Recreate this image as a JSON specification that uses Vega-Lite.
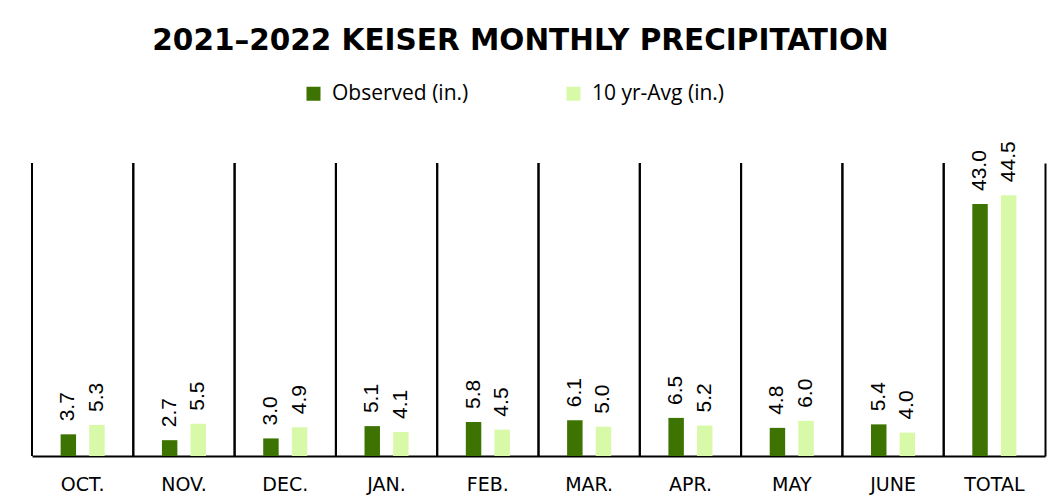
{
  "$schema": "https://vega.github.io/schema/vega-lite/v6.json",
  "width": 1013,
  "height": 293,
  "autosize": {"type": "none"},
  "padding": {"left": 32, "top": 163, "right": 12, "bottom": 46},
  "background": "white",
  "config": {"view": {"stroke": null}},
  "title": {
    "text": "2021–2022 KEISER MONTHLY PRECIPITATION",
    "font": "DejaVu Sans",
    "fontSize": 29.5,
    "fontWeight": "bold",
    "color": "black",
    "anchor": "middle",
    "frame": "group",
    "offset": 4,
    "dx": -18,
    "baseline": "alphabetic"
  },
  "data": {
    "values": [
      {"month": "OCT.", "series": "Observed (in.)", "value": 3.7},
      {"month": "OCT.", "series": "10 yr-Avg (in.)", "value": 5.3},
      {"month": "NOV.", "series": "Observed (in.)", "value": 2.7},
      {"month": "NOV.", "series": "10 yr-Avg (in.)", "value": 5.5},
      {"month": "DEC.", "series": "Observed (in.)", "value": 3.0},
      {"month": "DEC.", "series": "10 yr-Avg (in.)", "value": 4.9},
      {"month": "JAN.", "series": "Observed (in.)", "value": 5.1},
      {"month": "JAN.", "series": "10 yr-Avg (in.)", "value": 4.1},
      {"month": "FEB.", "series": "Observed (in.)", "value": 5.8},
      {"month": "FEB.", "series": "10 yr-Avg (in.)", "value": 4.5},
      {"month": "MAR.", "series": "Observed (in.)", "value": 6.1},
      {"month": "MAR.", "series": "10 yr-Avg (in.)", "value": 5.0},
      {"month": "APR.", "series": "Observed (in.)", "value": 6.5},
      {"month": "APR.", "series": "10 yr-Avg (in.)", "value": 5.2},
      {"month": "MAY", "series": "Observed (in.)", "value": 4.8},
      {"month": "MAY", "series": "10 yr-Avg (in.)", "value": 6.0},
      {"month": "JUNE", "series": "Observed (in.)", "value": 5.4},
      {"month": "JUNE", "series": "10 yr-Avg (in.)", "value": 4.0},
      {"month": "TOTAL", "series": "Observed (in.)", "value": 43.0},
      {"month": "TOTAL", "series": "10 yr-Avg (in.)", "value": 44.5}
    ]
  },
  "encoding": {
    "x": {
      "field": "month",
      "type": "nominal",
      "sort": null,
      "scale": {"paddingInner": 0, "paddingOuter": 0},
      "axis": {
        "title": null,
        "labelAngle": 0,
        "labelFont": "DejaVu Sans",
        "labelFontSize": 19,
        "labelColor": "black",
        "labelPadding": 19,
        "ticks": false,
        "grid": false,
        "domainColor": "black",
        "domainWidth": 2
      }
    },
    "y": {
      "field": "value",
      "type": "quantitative",
      "scale": {"domain": [0, 50]},
      "axis": {
        "orient": "right",
        "title": null,
        "labels": false,
        "ticks": false,
        "grid": false,
        "domainColor": "black",
        "domainWidth": 2
      }
    }
  },
  "layer": [
    {
      "mark": {"type": "rule", "color": "black", "strokeWidth": 2},
      "encoding": {
        "x": {"field": "month", "type": "nominal", "sort": null, "bandPosition": 0},
        "y": null
      }
    },
    {
      "mark": {"type": "bar"},
      "encoding": {
        "xOffset": {
          "field": "series",
          "type": "nominal",
          "sort": ["Observed (in.)", "10 yr-Avg (in.)"],
          "scale": {"paddingInner": 0.46, "paddingOuter": 1.18}
        },
        "color": {
          "field": "series",
          "type": "nominal",
          "sort": ["Observed (in.)", "10 yr-Avg (in.)"],
          "scale": {"domain": ["Observed (in.)", "10 yr-Avg (in.)"], "range": ["#3D7300", "#D8FAA8"]},
          "legend": {
            "title": null,
            "orient": "none",
            "legendX": 271,
            "legendY": -80,
            "direction": "horizontal",
            "symbolType": "square",
            "symbolSize": 196,
            "symbolStrokeWidth": 0,
            "labelFont": "Open Sans",
            "labelFontSize": 21,
            "labelColor": "black",
            "labelOffset": 8,
            "columnPadding": 94,
            "labelLimit": 300
          }
        }
      }
    },
    {
      "mark": {
        "type": "text",
        "angle": 270,
        "align": "left",
        "baseline": "middle",
        "dx": 13,
        "font": "Liberation Sans",
        "fontSize": 21,
        "color": "black"
      },
      "encoding": {
        "xOffset": {
          "field": "series",
          "type": "nominal",
          "sort": ["Observed (in.)", "10 yr-Avg (in.)"]
        },
        "text": {"field": "value", "type": "quantitative", "format": ".1f"}
      }
    }
  ]
}
